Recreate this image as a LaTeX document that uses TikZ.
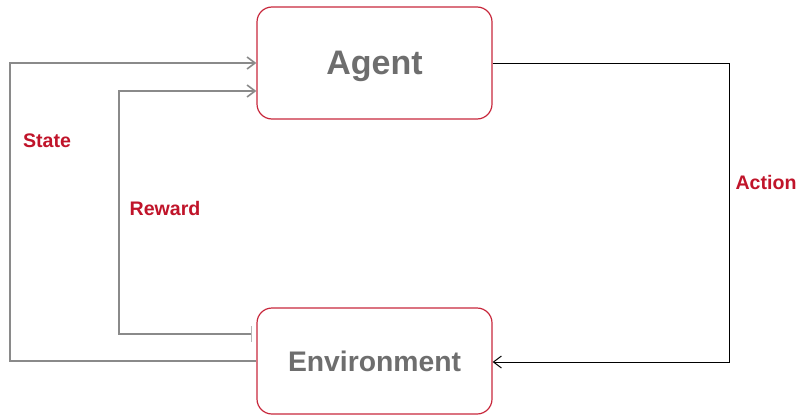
\documentclass[tikz,border=0pt]{standalone}
\usepackage{fontspec}
\setmainfont{Liberation Sans}
\usepackage{tikz}
\usetikzlibrary{arrows.meta}
\definecolor{boxred}{HTML}{C8283C}
\definecolor{labred}{HTML}{C0142A}
\definecolor{textgray}{HTML}{6E6E6E}
\definecolor{linegray}{HTML}{8A8A8A}

\begin{document}
\begin{tikzpicture}[x=1pt,y=-1pt,
						roundbox/.style={rectangle, rounded corners=15pt, draw=boxred, line width=1.2pt, fill=white, minimum width=235pt, text=textgray, font=\bfseries},
						grayline/.style={draw=linegray, line width=1.6pt, -{Straight Barb[length=8pt,width=12pt]}},
						blackline/.style={draw=black, line width=1pt, -{Straight Barb[length=8pt,width=12pt]}},
						looplabel/.style={text=labred, font=\fontsize{19.6}{22}\selectfont\bfseries},
						]
						\useasboundingbox (0,0) rectangle (800,415);
						%Nodes
						\node[roundbox, minimum height=112pt, text depth=0pt, font=\fontsize{34}{38}\selectfont\bfseries]	(agent) 	at	(374.5,63) 		{Agent};
						\node[roundbox, minimum height=106pt, font=\fontsize{28.3}{32}\selectfont\bfseries]	(env) 	at	(374.5,361) 		{Environment};
						\node[looplabel]      (state) 	at 	(47,141)           {State};
						\node[looplabel]      (reward) 	at 	(165,208)          {Reward};
						\node[looplabel]      (action) 	at 	(766,182)          {Action};
						\coordinate (rwstart) at ([xshift=-5pt,yshift=27pt]env.west);
						
						%Connectors
						\draw[grayline] (env.west) -- (10,361) |- (agent.west);
						\draw[draw=linegray!60, line width=0.8pt] ([yshift=8pt]rwstart) -- ([yshift=-8pt]rwstart);
						\draw[grayline] (rwstart) -- (119,334) |- ([yshift=-28pt]agent.west);
						\draw[blackline] (agent.east) -- (729,63) |- ([yshift=-1pt]env.east);
					\end{tikzpicture}
\end{document}
